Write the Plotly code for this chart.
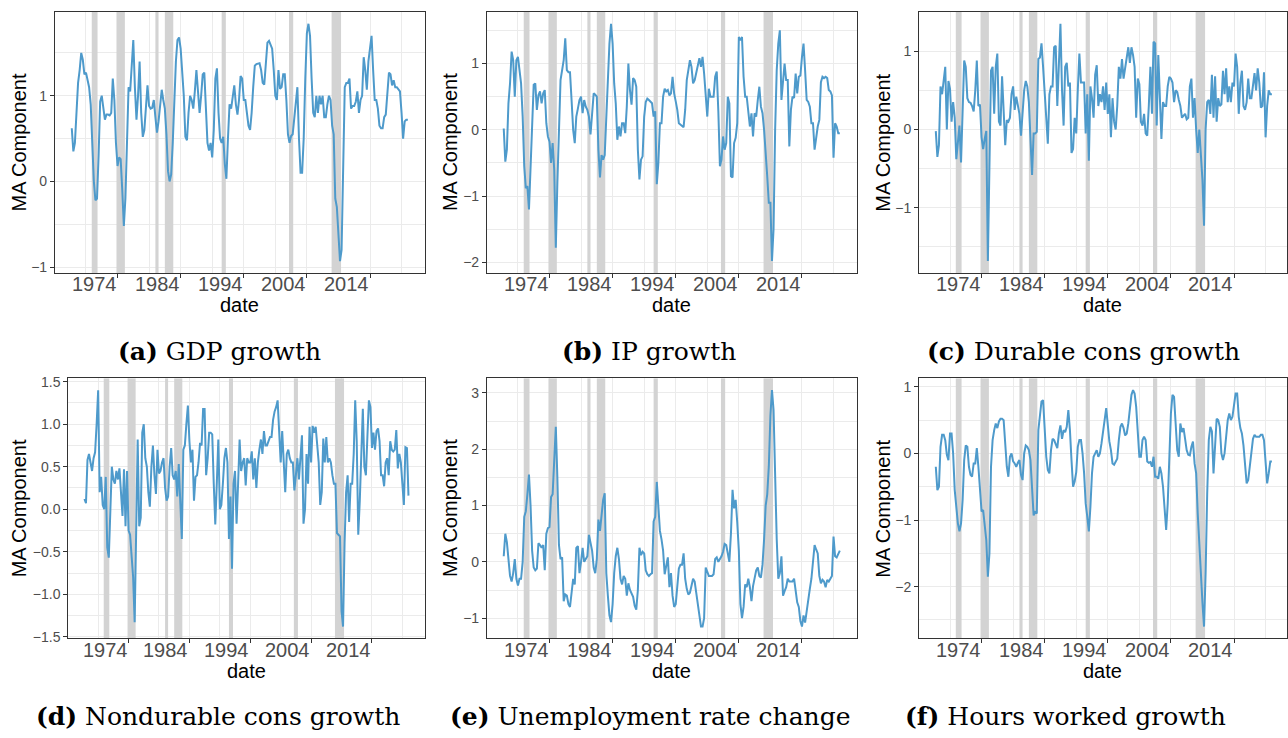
import pandas as pd
import plotly.graph_objects as go

W, H = 1288, 738
START = "1966-10-01"  # first quarter of every series (quarterly, 1966Q4-2020Q1)

gdp = [0.62,
    0.35, 0.45, 0.75, 1.15,   1.30, 1.50, 1.42, 1.25,   1.27, 1.20, 1.10, 0.90,
    0.45, 0.00, -0.22, -0.20,  0.30, 0.93, 1.00, 0.85,  0.72, 0.78, 0.78, 0.77,
    0.80, 1.20, 0.95, 0.45,   0.18, 0.28, 0.26, -0.10,  -0.52, -0.20, 0.50, 1.10,
    1.05, 1.35, 1.65, 1.10,   0.72, 1.00, 1.40, 0.80,   0.52, 0.60, 0.90, 1.12,
    0.88, 0.85, 0.86, 0.95,   0.75, 0.57, 0.70, 0.90,   1.07, 0.95, 0.85, 0.55,
    0.12, 0.00, 0.08, 0.45,   0.95, 1.40, 1.65, 1.68,   1.55, 1.30, 1.00, 0.52,
    0.48, 0.80, 1.00, 0.95,   0.85, 1.05, 1.30, 1.05,   0.80, 1.00, 1.25, 1.27,
    0.80, 0.45, 0.36, 0.45,   0.28, 0.60, 1.20, 1.32,   0.80, 0.50, 0.45, 0.52,
    0.20, 0.03, 0.50, 0.90,   0.85, 1.00, 1.12, 0.90,   0.78, 0.95, 1.23, 1.20,
    0.95, 0.95, 0.80, 0.65,   0.60, 0.80, 1.10, 1.35,   1.37, 1.38, 1.38, 1.30,
    1.15, 1.13, 1.40, 1.62,   1.64, 1.60, 1.55, 1.30,   1.00, 0.95, 1.30, 1.08,
    1.10, 1.25, 1.25, 0.95,   0.55, 0.45, 0.53, 0.55,   0.75, 0.95, 1.10, 0.50,
    0.10, 0.10, 0.50, 1.20,   1.73, 1.84, 1.70, 1.20,   0.80, 0.75, 1.00, 0.80,
    1.00, 0.90, 1.00, 0.75,   0.75, 0.90, 1.00, 0.95,   0.65, 0.55, -0.20, -0.30,
    -0.60, -0.93, -0.80, 0.20,  1.10, 1.15, 1.15, 1.20,  0.85, 0.88, 0.88, 0.93,
    1.05, 0.80, 0.95, 1.00,   1.45, 1.30, 1.07, 1.40,   1.55, 1.70, 1.30, 0.95,
    0.95, 0.85, 0.65, 0.62,   0.62, 0.75, 0.78, 1.00,   1.27, 1.25, 1.12, 1.18,
    1.10, 1.10, 1.08, 1.05,   0.80, 0.50, 0.70, 0.72,
    0.72]

ip = [0.02,
    -0.48, -0.30, 0.40, 0.70,  1.18, 1.05, 0.50, 1.05,  1.10, 0.90, 0.70, 0.20,
    -0.55, -0.88, -0.85, -1.20,  -0.50, 0.10, 0.68, 0.70,  0.30, 0.52, 0.58, 0.40,
    0.55, 0.60, 0.10, -0.10,  -0.18, -0.50, -0.20, -0.60,  -1.78, -0.80, 0.05, 0.75,
    0.90, 1.05, 1.38, 0.90,   0.87, 0.87, 0.45, 0.00,   -0.20, 0.20, 0.32, 0.45,
    0.50, 0.25, 0.45, 0.35,   0.30, 0.20, -0.07, 0.20,  0.55, 0.53, 0.50, -0.30,
    -0.72, -0.38, -0.45, -0.38,  0.20, 0.90, 1.30, 1.60,  1.30, 0.70, 0.40, -0.15,
    0.05, -0.10, 0.10, 0.10,  -0.05, 0.35, 1.00, 0.60,  0.38, 0.78, 0.75, 0.65,
    -0.30, -0.75, -0.45, -0.40,  0.20, 0.42, 0.47, 0.45,  0.42, 0.40, 0.20, 0.28,
    -0.82, -0.50, 0.10, 0.10,  0.50, 0.62, 0.58, 0.60,  0.52, 0.55, 0.80, 0.55,
    0.43, 0.30, 0.10, 0.08,   0.06, 0.04, 0.30, 0.75,   0.90, 1.05, 0.95, 0.70,
    0.75, 0.88, 1.00, 1.08,   0.95, 1.10, 0.85, 0.50,   0.20, 0.62, 0.50, 0.50,
    0.50, 0.80, 0.88, 0.28,   -0.55, -0.45, -0.10, -0.30,  -0.20, 0.50, 0.40, -0.70,
    -0.72, -0.20, -0.12, 0.10,  1.40, 1.35, 1.40, 0.80,  0.50, 0.50, 0.30, 0.05,
    0.25, -0.10, 0.25, 0.20,  0.45, 0.65, 0.35, 0.25,   0.00, -0.30, -0.70, -1.10,
    -1.10, -1.98, -1.50, 0.00,  0.90, 1.30, 1.50, 0.45,  0.80, 1.00, 0.75, 0.75,
    -0.25, 0.30, 0.50, 0.48,  0.85, 0.55, 0.80, 0.82,   1.10, 1.30, 0.90, 0.45,
    0.42, 0.35, 0.10, 0.10,   -0.30, -0.10, 0.05, 0.15,  0.72, 0.80, 0.78, 0.80,
    0.78, 0.60, 0.58, 0.52,   -0.42, 0.10, 0.05, -0.05,
    -0.05]

durable = [-0.02,
    -0.35, -0.20, 0.55, 0.45,  0.60, 0.80, 0.00, 0.62,  0.52, 0.10, 0.35, 0.15,
    -0.38, -0.15, 0.05, -0.42,  0.20, 0.88, 0.80, 0.40,  0.35, 0.34, 0.30, 0.23,
    0.50, 0.88, 0.30, 0.32,   -0.10, -0.25, -0.12, -0.02,  -1.68, -0.40, 0.75, 0.80,
    0.20, 0.80, 0.97, 0.10,   0.05, 0.68, 0.20, -0.20,  0.12, 0.10, 0.15, 0.45,
    0.55, 0.25, 0.42, 0.30,   0.20, -0.08, 0.20, 0.50,  0.62, 0.55, 0.35, -0.15,
    -0.58, -0.05, -0.05, -0.03,  0.90, 0.92, 1.10, 0.80,  0.40, 0.15, -0.18, 0.45,
    0.55, 0.55, 1.05, 1.07,   0.30, 0.80, 1.35, 0.50,   0.05, 0.80, 0.85, 0.55,
    0.60, -0.30, -0.25, 0.15,  -0.05, 0.50, 0.97, 0.60,  0.60, 0.60, -0.05, 0.45,
    -0.40, 0.55, 0.40, 0.15,  0.70, 0.82, 0.30, 0.45,   0.35, 0.55, 0.25, 0.60,
    0.20, 0.45, -0.10, 0.40,  0.10, 0.00, 0.30, 0.80,   0.65, 0.90, 0.65, 0.80,
    0.90, 1.05, 0.85, 1.05,   0.95, 0.80, 0.15, 0.65,   0.58, 0.10, 0.05, 0.20,
    -0.05, -0.08, 0.30, 0.80,  0.20, 1.12, 1.10, 0.05,  0.95, 0.40, -0.12, 0.35,
    0.30, 0.30, 0.55, 0.67,   0.65, 0.60, 0.35, 0.50,   0.48, 0.38, 0.30, 0.15,
    0.18, 0.20, 0.13, 0.15,   0.55, 0.65, 0.15, 0.40,   0.00, -0.30, 0.00, -0.30,
    -0.65, -1.23, 0.00, 0.35,  0.38, 0.20, 0.70, 0.15,  0.68, 0.10, 0.40, 0.30,
    0.32, 0.75, 0.45, 0.78,   0.35, 0.55, 0.35, 0.60,   0.55, 0.97, 0.80, 0.20,
    0.60, 0.75, 0.30, 0.25,   0.35, 0.65, 0.40, 0.40,   0.55, 0.72, 0.50, 0.78,
    0.60, 0.28, 0.30, 0.73,   -0.10, 0.30, 0.50, 0.45,
    0.45]

nondurable = [0.12,
    0.07, 0.58, 0.65, 0.55,   0.45, 0.60, 0.67, 1.00,   1.40, 0.20, 0.38, 0.05,
    0.00, 0.38, -0.45, -0.57,  0.10, 0.50, 0.35, 0.30,  0.45, 0.35, 0.48, 0.22,
    -0.08, 0.47, -0.20, 0.45,  -0.25, -0.30, -0.50, -0.80,  -1.33, -0.30, 0.82, -0.20,
    -0.10, 0.90, 1.00, 0.60,  0.50, 0.20, 0.03, 0.50,   0.75, 0.40, 0.18, 0.70,
    0.42, 0.45, 0.55, 0.60,   0.25, 0.10, 0.15, 0.50,   0.72, 0.40, 0.35, 0.45,
    0.15, 0.53, 0.00, -0.35,  0.70, 0.75, 1.00, 1.22,   0.80, 0.55, 0.70, 0.10,
    0.38, 0.40, 0.55, 0.78,   0.75, 1.18, 1.18, 0.40,   0.60, 0.90, 0.90, 0.88,
    0.30, -0.18, 0.30, 0.82,  0.00, 0.05, 0.30, 0.60,   0.72, 0.55, -0.35, 0.15,
    -0.70, 0.30, 0.45, -0.17,  0.30, 0.82, 0.45, 0.55,  0.60, 0.28, 0.60, 0.55,
    0.55, 0.68, 0.35, 0.60,   0.25, 0.55, 0.70, 0.82,   0.65, 0.92, 0.75, 0.75,
    0.80, 0.85, 0.85, 1.05,   1.15, 1.20, 1.28, 0.90,   0.55, 0.92, 0.55, 0.20,
    0.65, 0.70, 0.60, 0.55,   0.55, 0.22, 0.40, 0.60,   0.35, 0.65, 0.87, -0.17,
    0.00, 0.65, 0.30, 0.97,   0.55, 0.98, 0.90, 0.97,   0.78, 0.55, 0.05, 0.20,
    0.83, 0.55, 0.85, 0.55,   0.60, 0.55, 0.40, 0.30,   0.30, -0.28, -0.30, -0.32,
    -1.20, -1.38, -0.40, 0.20,  0.40, -0.15, 0.30, 0.30,  0.65, 1.28, 0.80, -0.30,
    0.10, 0.55, 1.18, 0.50,   0.40, 0.85, 1.28, 1.20,   0.72, 0.90, 0.70, 0.92,
    0.95, 0.80, 0.40, 0.40,   0.27, 0.55, 0.60, 0.40,   0.80, 0.70, 0.68, 0.70,
    0.93, 0.48, 0.65, 0.55,   0.30, 0.05, 0.73, 0.72,
    0.16]

unemp = [0.10,
    0.50, 0.35, 0.10, -0.25,  -0.35, -0.20, 0.05, -0.30,  -0.42, -0.30, -0.30, 0.00,
    0.80, 0.90, 1.20, 1.55,   1.00, 0.20, -0.10, -0.15,  -0.12, 0.33, 0.30, 0.25,
    0.30, -0.15, 0.50, 0.60,  0.62, 1.15, 1.20, 1.80,   2.40, 1.50, 0.30, 0.05,
    0.08, -0.70, -0.58, -0.60,  -0.75, -0.80, -0.55, -0.30,  -0.40, 0.25, 0.28, -0.20,
    0.00, 0.25, 0.00, 0.05,   0.10, 0.48, 0.35, 0.20,   -0.10, -0.20, 0.05, 0.75,
    0.55, 0.80, 1.10, 1.22,   -0.20, -0.60, -0.95, -1.07,  -0.75, -0.20, 0.10, 0.25,
    0.05, -0.30, -0.40, -0.25,  -0.30, -0.60, -0.38, -0.50,  -0.58, -0.62, -0.78, -0.85,
    -0.50, 0.25, 0.12, 0.18,  0.15, -0.15, -0.22, -0.25,  -0.22, -0.20, 0.72, 0.80,
    1.42, 0.90, 0.55, 0.40,   0.20, -0.22, -0.05, 0.08,  -0.45, -0.20, -0.60, -0.80,
    -0.75, -0.45, -0.12, -0.05,  -0.05, 0.15, -0.30, -0.48,  -0.58, -0.55, -0.45, -0.30,
    -0.35, -0.55, -0.80, -0.95,  -1.15, -1.15, -1.00, -0.10,  -0.20, -0.25, -0.25, -0.25,
    -0.22, 0.05, 0.08, 0.00,  0.05, 0.10, 0.18, 0.32,   0.30, 0.15, 0.00, 0.50,
    1.28, 0.95, 1.10, 0.70,   0.20, -0.75, -1.00, -0.80,  -0.40, -0.45, -0.30, -0.45,
    -0.70, -0.43, -0.30, -0.15,  -0.10, -0.25, -0.28, -0.05,  0.40, 1.00, 1.20, 1.70,
    2.60, 3.05, 2.70, 1.50,   0.40, -0.30, -0.20, 0.10,  -0.60, -0.52, -0.45, -0.30,
    -0.35, -0.35, -0.35, -0.30,  -0.50, -0.72, -0.80, -1.05,  -1.15, -0.95, -1.08, -0.85,
    -0.65, -0.48, -0.30, 0.00,  0.30, 0.22, 0.15, -0.25,  -0.38, -0.32, -0.35, -0.45,
    -0.32, -0.35, -0.30, -0.25,  0.45, 0.10, 0.08, 0.15,
    0.20]

hours = [-0.20,
    -0.55, -0.50, 0.10, 0.28,  0.28, 0.20, -0.02, -0.10,  0.30, 0.30, 0.00, -0.55,
    -0.85, -1.05, -1.17, -1.05,  -0.70, -0.10, 0.12, 0.10,  -0.20, -0.32, -0.35, -0.15,
    -0.15, 0.08, -0.20, -0.60,  -0.87, -0.85, -1.05, -1.30,  -1.85, -1.50, -0.20, 0.20,
    0.35, 0.45, 0.38, 0.48,   0.52, 0.52, 0.50, 0.08,   -0.20, -0.35, -0.05, 0.00,
    -0.12, -0.15, -0.20, -0.14,  -0.10, -0.32, -0.40, 0.00,  0.12, 0.10, 0.05, -0.10,
    -0.60, -0.93, -0.88, -0.90,  0.35, 0.62, 0.78, 0.80,  0.30, -0.05, -0.25, -0.30,
    0.05, 0.22, 0.20, 0.15,   0.08, 0.30, 0.42, 0.22,   0.35, 0.32, 0.40, 0.65,
    0.35, -0.10, -0.50, -0.42,  -0.28, 0.10, 0.20, 0.20,  0.00, -0.30, -0.75, -0.95,
    -1.17, -0.80, -0.30, -0.05,  0.00, 0.05, -0.05, 0.00,  0.15, 0.30, 0.50, 0.68,
    0.35, 0.18, 0.05, -0.15,  -0.17, -0.12, -0.08, 0.20,  0.40, 0.45, 0.38, 0.27,
    0.30, 0.45, 0.65, 0.88,   0.95, 0.90, 0.70, 0.30,   -0.05, -0.05, 0.20, 0.25,
    0.20, -0.12, -0.14, -0.13,  -0.20, -0.05, -0.35, -0.35,  -0.38, -0.20, -0.30, -0.50,
    -0.90, -1.15, -0.75, -0.10,  0.60, 0.88, 0.85, 0.45,  0.05, -0.05, 0.45, 0.32,
    0.38, 0.22, 0.05, -0.02,  -0.03, 0.10, 0.18, -0.15,  -0.30, -0.90, -1.40, -1.75,
    -2.25, -2.60, -1.80, -0.60,  0.20, 0.40, 0.33, -0.30,  0.10, 0.52, 0.50, 0.40,
    0.00, -0.10, 0.00, 0.22,  0.50, 0.60, 0.50, 0.55,   0.72, 0.90, 0.90, 0.55,
    0.38, 0.30, 0.12, -0.15,  -0.45, -0.40, -0.22, 0.00,  0.22, 0.28, 0.25, 0.25,
    0.25, 0.28, 0.28, 0.20,   -0.20, -0.45, -0.30, -0.12,
    -0.12]

series = [gdp, ip, durable, nondurable, unemp, hours]
letters = ["a", "b", "c", "d", "e", "f"]
captions = ["GDP growth", "IP growth", "Durable cons growth",
            "Nondurable cons growth", "Unemployment rate change", "Hours worked growth"]

# NBER recession dates (peak, trough)
rec_start = ["1969-12-01", "1973-11-01", "1980-01-01", "1981-07-01",
             "1990-07-01", "2001-03-01", "2007-12-01"]
rec_end = ["1970-11-01", "1975-03-01", "1980-07-01", "1982-11-01",
           "1991-03-01", "2001-11-01", "2009-06-01"]

major_years = [1974, 1984, 1994, 2004, 2014]
minor_years = [1969, 1979, 1989, 1999, 2009, 2019]

# panel boxes in pixels: left, right, top, bottom
boxes = [(55, 425, 7, 272), (487.3, 857.3, 7, 272), (919.7, 1289.7, 7, 272),
         (68.3, 425, 379, 643), (487.3, 857.3, 379, 643), (919.7, 1289.7, 379, 643)]
ylab_x = [19, 451, 884, 19, 451, 884]
caption_x = [220, 650, 1084, 218.5, 651.5, 1066]
caption_y = [352, 352, 352, 722, 722, 722]
ystep = [1, 1, 1, 0.5, 1, 1]

LINE = "#4E9ACB"
GRID = "#EBEBEB"
FRAME = "#333333"
SANS = "Liberation Sans, Arial, sans-serif"
SERIF = "DejaVu Serif, serif"

fig = go.Figure()
annotations = []
layout = {}

for k, (vals, box) in enumerate(zip(series, boxes), start=1):
    sfx = "" if k == 1 else str(k)
    dates = pd.date_range(START, periods=len(vals), freq="QS")
    t0, t1 = dates[0], dates[-1]
    span = t1 - t0
    lo, hi = t0 - 0.05 * span, t1 + 0.05 * span
    left, right, top, bottom = box
    frac = min(1.0, (W - left) / (right - left))
    hi_vis = lo + (hi - lo) * frac
    vmin, vmax = min(vals), max(vals)
    pad = 0.05 * (vmax - vmin)
    ylo, yhi = vmin - pad, vmax + pad

    # recession bands, full panel height
    bx, by = [], []
    for s, e in zip(rec_start, rec_end):
        bx += [s, s, e, e, s, None]
        by += [ylo, yhi, yhi, ylo, ylo, None]
    fig.add_trace(go.Scatter(x=bx, y=by, mode="lines", fill="toself",
                             fillcolor="#D3D3D3", line=dict(width=0),
                             xaxis="x" + sfx, yaxis="y" + sfx,
                             showlegend=False, hoverinfo="skip"))

    fig.add_trace(go.Scatter(x=dates, y=vals, mode="lines",
                             line=dict(color=LINE, width=2),
                             xaxis="x" + sfx, yaxis="y" + sfx,
                             showlegend=False, hoverinfo="skip"))

    layout["xaxis" + sfx] = dict(
        domain=[left / W, min(right, W) / W], anchor="y" + sfx, type="date",
        range=[lo, hi_vis],
        tickmode="array", tickvals=[f"{y}-01-01" for y in major_years],
        showticklabels=False,
        ticks="outside", ticklen=4, tickwidth=1, tickcolor=FRAME,
        showgrid=True, gridcolor=GRID, gridwidth=1.1,
        minor=dict(tickmode="array",
                   tickvals=[f"{y}-01-01" for y in minor_years],
                   showgrid=True, gridcolor=GRID, gridwidth=0.55, ticks=""),
        showline=True, mirror=True, linecolor=FRAME, linewidth=1,
        zeroline=False, fixedrange=True)
    layout["yaxis" + sfx] = dict(
        domain=[1 - bottom / H, 1 - top / H], anchor="x" + sfx,
        range=[ylo, yhi],
        tickmode="linear", tick0=0, dtick=ystep[k - 1],
        tickformat=".1f" if ystep[k - 1] < 1 else "d",
        ticks="outside", ticklen=4, tickwidth=1, tickcolor=FRAME,
        tickfont=dict(family=SANS, size=14, color="#4D4D4D"),
        showgrid=True, gridcolor=GRID, gridwidth=1.1,
        minor=dict(tickmode="linear", tick0=0, dtick=ystep[k - 1] / 2,
                   showgrid=True, gridcolor=GRID, gridwidth=0.55, ticks=""),
        showline=True, mirror=True, linecolor=FRAME, linewidth=1,
        zeroline=False, fixedrange=True)

    # year labels sit just left of their tick
    for y in major_years:
        annotations.append(dict(text=str(y), x=f"{y}-01-01", xref="x" + sfx,
                                y=1 - (bottom + 11.5) / H, yref="paper",
                                showarrow=False, xanchor="right", yanchor="middle",
                                xshift=1,
                                font=dict(family=SANS, size=20, color="#4D4D4D")))

    annotations.append(dict(text="date", x=(left + min(right, W)) / 2 / W,
                            y=1 - (bottom + 33) / H, xref="paper", yref="paper",
                            showarrow=False, xanchor="center", yanchor="middle",
                            font=dict(family=SANS, size=20, color="black")))
    annotations.append(dict(text="MA Component", x=ylab_x[k - 1] / W,
                            y=1 - (top + bottom) / 2 / H, xref="paper", yref="paper",
                            showarrow=False, textangle=-90, xanchor="center",
                            yanchor="middle",
                            font=dict(family=SANS, size=20, color="black")))
    annotations.append(dict(text=f"<b>({letters[k - 1]})</b> {captions[k - 1]}",
                            x=caption_x[k - 1] / W, y=1 - caption_y[k - 1] / H,
                            xref="paper", yref="paper", showarrow=False,
                            xanchor="center", yanchor="middle",
                            font=dict(family=SERIF, size=25, color="black")))

fig.update_layout(width=W, height=H, margin=dict(l=0, r=0, t=0, b=0),
                  paper_bgcolor="white", plot_bgcolor="white",
                  annotations=annotations, **layout)

fig.write_html("out.html")
